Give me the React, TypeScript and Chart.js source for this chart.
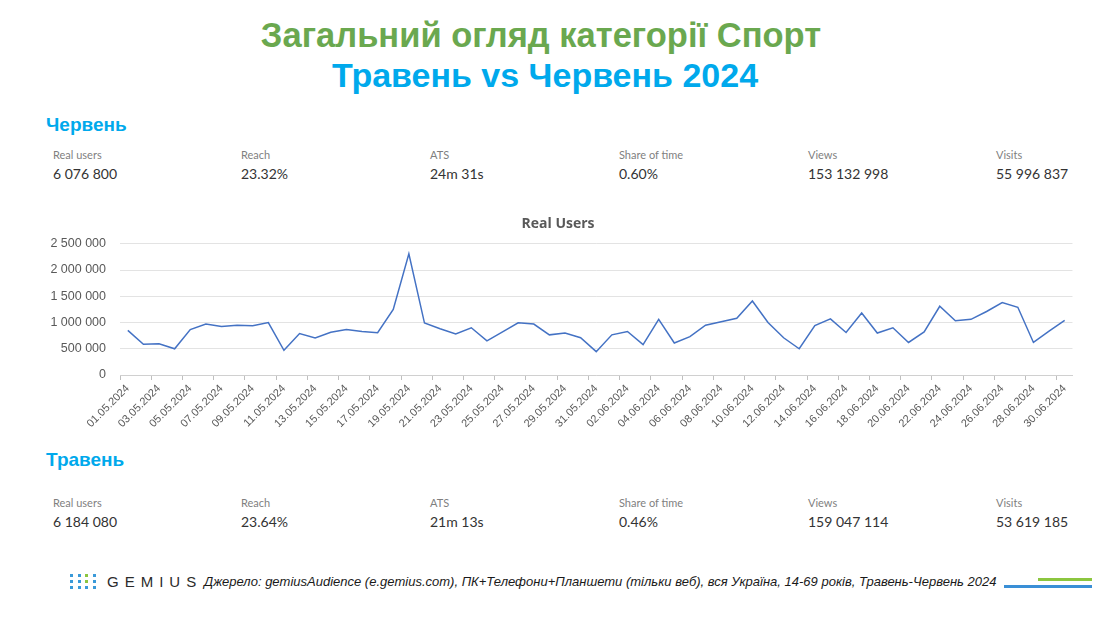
import React, { useEffect, useRef } from "react";
import { Chart, registerables } from "chart.js";

Chart.register(...registerables);

const dates: string[] = [
  "01.05.2024", "02.05.2024", "03.05.2024", "04.05.2024", "05.05.2024", "06.05.2024", "07.05.2024", "08.05.2024",
  "09.05.2024", "10.05.2024", "11.05.2024", "12.05.2024", "13.05.2024", "14.05.2024", "15.05.2024", "16.05.2024",
  "17.05.2024", "18.05.2024", "19.05.2024", "20.05.2024", "21.05.2024", "22.05.2024", "23.05.2024", "24.05.2024",
  "25.05.2024", "26.05.2024", "27.05.2024", "28.05.2024", "29.05.2024", "30.05.2024", "31.05.2024",
  "01.06.2024", "02.06.2024", "03.06.2024", "04.06.2024", "05.06.2024", "06.06.2024", "07.06.2024", "08.06.2024",
  "09.06.2024", "10.06.2024", "11.06.2024", "12.06.2024", "13.06.2024", "14.06.2024", "15.06.2024", "16.06.2024",
  "17.06.2024", "18.06.2024", "19.06.2024", "20.06.2024", "21.06.2024", "22.06.2024", "23.06.2024", "24.06.2024",
  "25.06.2024", "26.06.2024", "27.06.2024", "28.06.2024", "29.06.2024", "30.06.2024",
];

const realUsers: number[] = [
  850000, 585000, 595000, 500000, 865000, 970000, 925000, 950000, 940000, 1000000,
  470000, 790000, 707000, 816000, 868000, 830000, 805000, 1250000, 2310000, 990000,
  880000, 780000, 900000, 650000, 820000, 995000, 970000, 765000, 800000, 710000,
  445000, 765000, 830000, 580000, 1060000, 610000, 730000, 950000, 1015000, 1080000,
  1410000, 1000000, 710000, 500000, 940000, 1070000, 810000, 1180000, 800000, 900000,
  620000, 820000, 1310000, 1035000, 1060000, 1210000, 1380000, 1290000, 620000, 835000,
  1040000,
];

const yTicks: number[] = [0, 500000, 1000000, 1500000, 2000000, 2500000];

const statNames: string[] = ["Real users", "Reach", "ATS", "Share of time", "Views", "Visits"];
const juneStats: string[] = ["6 076 800", "23.32%", "24m 31s", "0.60%", "153 132 998", "55 996 837"];
const mayStats: string[] = ["6 184 080", "23.64%", "21m 13s", "0.46%", "159 047 114", "53 619 185"];

const titleLine1 = "Загальний огляд категорії Спорт";
const titleLine2 = "Травень vs Червень 2024";
const juneHeading = "Червень";
const mayHeading = "Травень";
const chartTitle = "Real Users";
const sourceText =
  "Джерело: gemiusAudience (e.gemius.com), ПК+Телефони+Планшети (тільки веб), вся Україна, 14-69 років, Травень-Червень 2024";

const statCols = [45, 233, 422, 611, 800, 988];

const fmt = (v: number) => String(v).replace(/\B(?=(\d{3})+(?!\d))/g, " ");

function StatsRow({ top, values }: { top: number; values: string[] }) {
  return (
    <>
      {statNames.map((n, i) => (
        <div
          key={"n" + i}
          style={{
            position: "absolute",
            left: statCols[i],
            top: top,
            fontFamily: "Lato, 'Open Sans', sans-serif",
            fontSize: 11,
            lineHeight: "11px",
            color: "#7f7f7f",
            whiteSpace: "nowrap",
          }}
        >
          {n}
        </div>
      ))}
      {values.map((v, i) => (
        <div
          key={"v" + i}
          style={{
            position: "absolute",
            left: statCols[i],
            top: top + 18,
            fontFamily: "Lato, 'Open Sans', sans-serif",
            fontSize: 14,
            lineHeight: "14px",
            color: "#333333",
            whiteSpace: "nowrap",
          }}
        >
          {v}
        </div>
      ))}
    </>
  );
}

function RealUsersChart() {
  const ref = useRef<HTMLCanvasElement | null>(null);
  useEffect(() => {
    if (!ref.current) return;
    const chart = new Chart(ref.current, {
      type: "line",
      data: {
        labels: dates,
        datasets: [
          {
            label: chartTitle,
            data: realUsers,
            borderColor: "#4472c4",
            backgroundColor: "#4472c4",
            borderWidth: 1.5,
            pointRadius: 0,
            tension: 0,
            fill: false,
          },
        ],
      },
      options: {
        animation: false,
        responsive: true,
        maintainAspectRatio: false,
        layout: { padding: { top: 0, right: 0, bottom: 0, left: 0 } },
        plugins: {
          legend: { display: false },
          tooltip: { enabled: false },
          title: {
            display: true,
            text: chartTitle,
            color: "#595959",
            font: { family: "'Open Sans', 'Liberation Sans', sans-serif", size: 14, weight: "bold" },
            padding: { top: 13, bottom: 11 },
          },
        },
        scales: {
          x: {
            type: "category",
            offset: true,
            grid: {
              offset: true,
              drawOnChartArea: false,
              drawTicks: true,
              tickLength: 5,
              color: (ctx: any) => (ctx.index % 2 === 0 ? "#bfbfbf" : "rgba(0,0,0,0)"),
            },
            border: { display: true, color: "#d0d0d0" },
            ticks: {
              autoSkip: false,
              minRotation: 45,
              maxRotation: 45,
              padding: 2,
              color: "#595959",
              font: { family: "'Liberation Sans', Arial, sans-serif", size: 11 },
              callback: (_v: any, i: number) => (i % 2 === 0 ? dates[i] : ""),
            },
            afterFit: (scale: any) => {
              scale.height = 58;
            },
          },
          y: {
            min: 0,
            max: 2500000,
            afterBuildTicks: (scale: any) => {
              scale.ticks = yTicks.map((v) => ({ value: v }));
            },
            grid: { color: "#e3e3e3", drawTicks: false },
            border: { display: false },
            ticks: {
              padding: 14,
              color: "#595959",
              font: { family: "'Liberation Sans', Arial, sans-serif", size: 12.5 },
              callback: (v: any) => fmt(Number(v)),
            },
            afterFit: (scale: any) => {
              scale.width = 80;
            },
          },
        },
      },
    });
    return () => chart.destroy();
  }, []);
  return (
    <div style={{ position: "absolute", left: 32, top: 195, width: 1036, height: 230 }}>
      <canvas ref={ref} />
    </div>
  );
}

const dotColors = [
  ["#3a9ad9", "#3a9ad9", "#8cc63f", "#3a9ad9"],
  ["#3a9ad9", "#3a9ad9", "#8cc63f", "#3a9ad9"],
  ["#3a9ad9", "#3a9ad9", "#3a9ad9", "#3a9ad9"],
];

export default function App() {
  return (
    <div style={{ position: "relative", width: 1084, height: 602, background: "#fff" }}>
      <div
        style={{
          position: "absolute",
          left: 0,
          width: 1084,
          top: 10,
          textAlign: "center",
          fontFamily: "'Liberation Sans', Arial, sans-serif",
          fontWeight: "bold",
          fontSize: 34.5,
          lineHeight: "34px",
          color: "#6aa84f",
          paddingRight: 18,
          boxSizing: "border-box",
          whiteSpace: "nowrap",
        }}
      >
        {titleLine1}
      </div>
      <div
        style={{
          position: "absolute",
          left: 0,
          width: 1084,
          top: 50,
          textAlign: "center",
          fontFamily: "'Liberation Sans', Arial, sans-serif",
          fontWeight: "bold",
          fontSize: 34,
          lineHeight: "34px",
          color: "#00a9ec",
          paddingRight: 10,
          boxSizing: "border-box",
          whiteSpace: "nowrap",
        }}
      >
        {titleLine2}
      </div>

      <div
        style={{
          position: "absolute",
          left: 38,
          top: 107,
          fontFamily: "'Liberation Sans', Arial, sans-serif",
          fontWeight: "bold",
          fontSize: 19,
          lineHeight: "19px",
          color: "#00a9ec",
        }}
      >
        {juneHeading}
      </div>
      <StatsRow top={141} values={juneStats} />

      <RealUsersChart />

      <div
        style={{
          position: "absolute",
          left: 38,
          top: 442,
          fontFamily: "'Liberation Sans', Arial, sans-serif",
          fontWeight: "bold",
          fontSize: 19,
          lineHeight: "19px",
          color: "#00a9ec",
        }}
      >
        {mayHeading}
      </div>
      <StatsRow top={489} values={mayStats} />

      <div style={{ position: "absolute", left: 62, top: 566 }}>
        {dotColors.map((row, r) =>
          row.map((c, k) => (
            <div
              key={r + "-" + k}
              style={{
                position: "absolute",
                left: k * 7.7,
                top: r * 5.8,
                width: 3,
                height: 3,
                background: c,
              }}
            />
          ))
        )}
      </div>
      <div
        style={{
          position: "absolute",
          left: 99,
          top: 566,
          fontFamily: "'Liberation Sans', Arial, sans-serif",
          fontSize: 15,
          lineHeight: "15px",
          letterSpacing: "6px",
          color: "#2b2b2b",
        }}
      >
        GEMIUS
      </div>
      <div
        style={{
          position: "absolute",
          left: 196,
          top: 567,
          fontFamily: "'Liberation Sans', Arial, sans-serif",
          fontStyle: "italic",
          fontSize: 13,
          lineHeight: "14px",
          color: "#1a1a1a",
          whiteSpace: "nowrap",
        }}
      >
        {sourceText}
      </div>
      <div style={{ position: "absolute", left: 1030, top: 570, width: 62, height: 3, background: "#8cc63f" }} />
      <div style={{ position: "absolute", left: 996, top: 577, width: 96, height: 3, background: "#3a8fd6" }} />
    </div>
  );
}
